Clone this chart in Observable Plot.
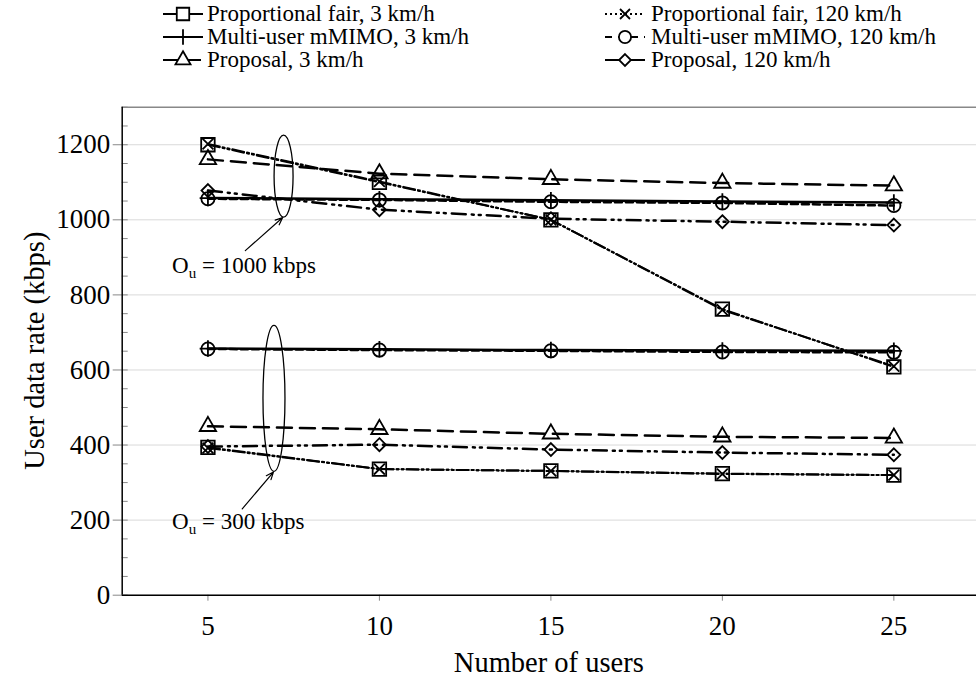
<!DOCTYPE html>
<html><head><meta charset="utf-8">
<script src="https://cdn.jsdelivr.net/npm/d3@7"></script>
<script src="https://cdn.jsdelivr.net/npm/@observablehq/plot@0.6"></script>
<style>
body{margin:0;background:#fff;font-family:"Liberation Serif",serif;}
svg{display:block;}
svg text{font-family:"Liberation Serif",serif;}
</style></head><body>
<div id="legend"></div>
<div id="chart"></div>
<script>
// ---------- data ----------
const users = [5, 10, 15, 20, 25];
const seriesNames = [
  "Proportional fair, 3 km/h",
  "Multi-user mMIMO, 3 km/h",
  "Proposal, 3 km/h",
  "Proportional fair, 120 km/h",
  "Multi-user mMIMO, 120 km/h",
  "Proposal, 120 km/h"
];
// O_u = 1000 kbps
const pf3_1000    = [1200, 1100, 1000, 762, 608];
const mu3_1000    = [1058, 1055, 1052, 1049, 1046];
const prop3_1000  = [1161, 1123, 1108, 1098, 1091];
const pf120_1000  = [1202, 1102, 1000, 760, 610];
const mu120_1000  = [1056, 1053, 1048, 1045, 1038];
const prop120_1000 = [1078, 1027, 1003, 995, 986];
// O_u = 300 kbps
const pf3_300     = [394, 336, 331, 324, 320];
const mu3_300     = [657, 655, 653, 652, 651];
const prop3_300   = [450, 442, 430, 422, 419];
const pf120_300   = [392, 336, 331, 323, 320];
const mu120_300   = [656, 653, 651, 648, 647];
const prop120_300 = [396, 401, 388, 380, 374];

const xTicks = [5, 10, 15, 20, 25];
const yTicks = [0, 200, 400, 600, 800, 1000, 1200];
const yMinorTicks = [0, 50, 100, 150, 200, 250, 300, 350, 400, 450, 500, 550, 600, 650, 700, 750, 800, 850, 900, 950, 1000, 1050, 1100, 1150, 1200, 1250, 1300];
const xDomain = [2.5, 27.41];
const yDomain = [0, 1300];
const xLabel = "Number of users";
const yLabel = "User data rate (kbps)";

const annotations = [
  {ou: "1000", tx: 3.97, ty: 856, ex: 7.22, ey: 1115, ax1: 6.09, ay1: 918, ax2: 7.18, ay2: 1006},
  {ou: "300",  tx: 3.97, ty: 176, ex: 6.94, ey: 523,  ax1: 6.0,  ay1: 230, ax2: 6.91, ay2: 328}
];

// ---------- styles ----------
const seriesStyle = [
  {symbol: d3.symbolSquare2,   r: 8.6, dash: "12,3,2,3,2,3", legendDash: null,  width: 2},
  {symbol: d3.symbolPlus,      r: 5.4, dash: null,           legendDash: null,  width: 2.5},
  {symbol: d3.symbolTriangle2, r: 7.8, dash: "15,8",         legendDash: "15,8", width: 2.5},
  {symbol: d3.symbolTimes,     r: 5.0, dash: "12,3,2,3,2,3", legendDash: "2,3", width: 2},
  {symbol: d3.symbolCircle,    r: 6.6, dash: "7,4",          legendDash: "7,6", width: 2.5},
  {symbol: d3.symbolDiamond2,  r: 5.8, dash: "14,6,2,5,2,6", legendDash: null,  width: 2.5}
];
const ellipseRadii = [[9.5, 41], [11, 73]];
const FONT = "Liberation Serif, serif";

// ---------- table ----------
const rates1000 = [pf3_1000, mu3_1000, prop3_1000, pf120_1000, mu120_1000, prop120_1000];
const rates300  = [pf3_300, mu3_300, prop3_300, pf120_300, mu120_300, prop120_300];
const rows = [];
seriesNames.forEach((name, i) => {
  users.forEach((u, j) => {
    rows.push({series: name, ou: 1000, users: u, rate: rates1000[i][j]});
    rows.push({series: name, ou: 300,  users: u, rate: rates300[i][j]});
  });
});

// ---------- legend ----------
const legendH = 100;
const leg = d3.select("#legend").append("svg").attr("width", 976).attr("height", legendH);
const colX = [[163, 207], [605, 651]];
const rowY = [21, 44, 67];
seriesNames.forEach((name, i) => {
  const col = i < 3 ? 0 : 1, row = i % 3;
  const st = seriesStyle[i];
  const g = leg.append("g").attr("transform", `translate(${colX[col][0]},${rowY[row] - 7})`);
  g.append("line").attr("x1", 0).attr("x2", 40).attr("y1", 0).attr("y2", 0)
    .attr("stroke", "#000").attr("stroke-width", 2)
    .attr("stroke-dasharray", st.legendDash ? st.legendDash : null);
  g.append("path").attr("transform", "translate(20,0)")
    .attr("d", d3.symbol(st.symbol, Math.PI * st.r * st.r * 0.85)())
    .attr("fill", "#fff").attr("stroke", "#000").attr("stroke-width", 1.8);
  leg.append("text").attr("x", colX[col][1]).attr("y", rowY[row])
    .style("font-family", FONT).style("font-size", "23px").attr("fill", "#000").attr("text-anchor", "start")
    .text(name);
});

// ---------- plot ----------
const marks = [
  Plot.gridY({ticks: yTicks, stroke: "#d9d9d9", strokeOpacity: 1}),
  Plot.axisY({ticks: yMinorTicks, tickSize: -6, tickFormat: () => "", label: null, stroke: "#888"}),
  Plot.axisY({ticks: yTicks, tickSize: 9, tickPadding: 3, tickFormat: d => String(d), label: null, stroke: "#888", fontSize: 27}),
  Plot.axisX({ticks: xTicks, tickSize: 6, tickPadding: 15, tickFormat: d => String(d), label: null, stroke: "#888", fontSize: 27}),
  Plot.ruleY([yDomain[1]], {stroke: "#888", strokeWidth: 1.5}),
  Plot.ruleY([yDomain[0]], {stroke: "#000", strokeWidth: 1.5}),
  Plot.ruleX([xDomain[0]], {stroke: "#000", strokeWidth: 1.5})
];
seriesNames.forEach((name, i) => {
  const st = seriesStyle[i];
  marks.push(Plot.line(rows.filter(d => d.series === name), {
    x: "users", y: "rate", z: "ou", stroke: "#000", strokeWidth: st.width,
    strokeDasharray: st.dash ? st.dash : undefined
  }));
});
seriesNames.forEach((name, i) => {
  const st = seriesStyle[i];
  marks.push(Plot.dot(rows.filter(d => d.series === name), {
    x: "users", y: "rate", symbol: () => st.symbol, r: st.r, stroke: "#000", strokeWidth: 1.8, fill: "none"
  }));
});
marks.push(Plot.arrow(annotations, {x1: "ax1", y1: "ay1", x2: "ax2", y2: "ay2", stroke: "#000", strokeWidth: 1.2, headLength: 10, headAngle: 45}));

const W = 976, H = 582, mT = 6.7, mB = 87.3, mL = 121.7, mR = 0;
const chart = Plot.plot({
  width: W, height: H,
  marginTop: mT, marginBottom: mB, marginLeft: mL, marginRight: mR,
  x: {domain: xDomain},
  y: {domain: yDomain},
  symbol: {type: "identity"},
  style: {fontFamily: FONT, fontSize: "27px", color: "#000", background: "#fff", overflow: "visible"},
  marks
});
document.getElementById("chart").appendChild(chart);

const xs = chart.scale("x"), ys = chart.scale("y");
const svg = d3.select(chart);
svg.selectAll('g[aria-label$="tick label"] text')
  .style("font-family", FONT).style("font-size", "27px").attr("fill", "#000");
annotations.forEach((a, i) => {
  svg.append("ellipse").attr("cx", xs.apply(a.ex)).attr("cy", ys.apply(a.ey))
    .attr("rx", ellipseRadii[i][0]).attr("ry", ellipseRadii[i][1])
    .attr("fill", "none").attr("stroke", "#000").attr("stroke-width", 1.3);
  const t = svg.append("text").attr("x", xs.apply(a.tx)).attr("y", ys.apply(a.ty))
    .attr("text-anchor", "start")
    .style("font-family", FONT).style("font-size", "23px").attr("fill", "#000");
  t.append("tspan").text("O");
  t.append("tspan").style("font-size", "15px").attr("dy", 5).text("u");
  t.append("tspan").attr("dy", -5).text(` = ${a.ou} kbps`);
});
// axis titles
svg.append("text").attr("x", (mL + W - mR) / 2).attr("y", H - mB + 77)
  .attr("text-anchor", "middle").style("font-family", FONT).style("font-size", "28.5px").attr("fill", "#000")
  .text(xLabel);
svg.append("text").attr("transform", `translate(44,${(mT + H - mB) / 2}) rotate(-90)`)
  .attr("text-anchor", "middle").style("font-family", FONT).style("font-size", "28.5px").attr("fill", "#000")
  .text(yLabel);
</script>
</body></html>
